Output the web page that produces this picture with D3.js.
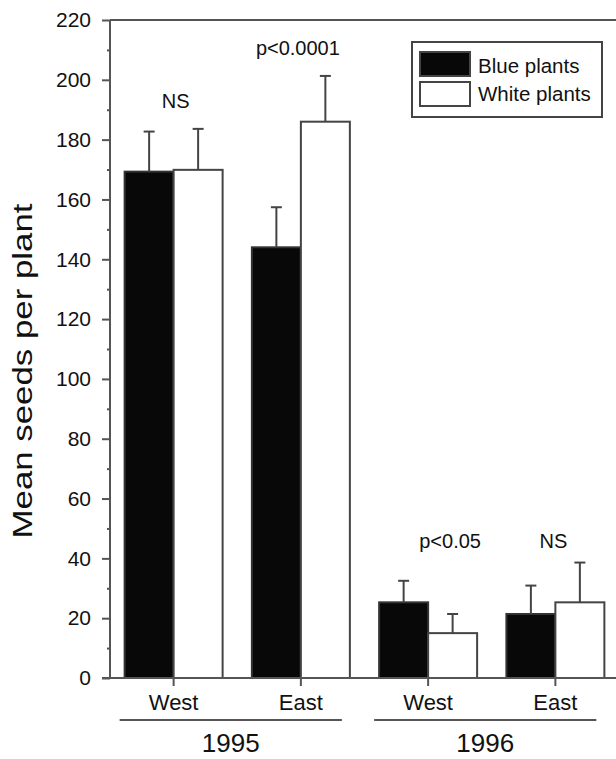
<!DOCTYPE html>
<html>
<head>
<meta charset="utf-8">
<script src="https://cdn.jsdelivr.net/npm/d3@7"></script>
<style>
  body { margin: 0; background: #fff; }
  text { font-family: "Liberation Sans", Arial, sans-serif; fill: #111; }
</style>
</head>
<body>
<div id="chart"></div>
<script>
// Mean seeds per plant, blue vs white morphs, by site and year

var years = ["1995", "1995", "1996", "1996"];
var sites = ["West", "East", "West", "East"];
var blueMeans = [169.3, 144, 25.3, 21.4];
var blueErr = [182.7, 157.4, 32.5, 30.9];
var whiteMeans = [169.9, 186, 15, 25.3];
var whiteErr = [183.6, 201.3, 21.4, 38.6];
var signif = ["NS", "p<0.0001", "p<0.05", "NS"];
var signifLevel = [190.6, 208.3, 43.5, 43.5];
var yTicks = [0, 20, 40, 60, 80, 100, 120, 140, 160, 180, 200, 220];
var seriesNames = ["Blue plants", "White plants"];

var margin = {top: 20, right: 0, bottom: 81, left: 110},
	width = 509,
	height = 759 - margin.top - margin.bottom;

var svg = d3.select("#chart").append("svg")
	.attr("width", 616)
	.attr("height", 759)
  .append("g")
	.attr("transform", "translate(" + margin.left + "," + margin.top + ")");

var keys = years.map(function(y, i) { return y + "-" + sites[i]; });

var x = d3.scaleBand()
		  .domain(keys)
		  .range([0, width])
		  .paddingInner(0.23)
		  .paddingOuter(0.115);
var y = d3.scaleLinear()
		  .domain([0, 220])
		  .range([height, 0]);

var bw = x.bandwidth() / 2;
var axisColor = "#555";

// Bars
var rows = keys.map(function(k, i) {
	return [
		{key: k, side: 0, v: blueMeans[i], e: blueErr[i], fill: "#080808", stroke: "#333"},
		{key: k, side: 1, v: whiteMeans[i], e: whiteErr[i], fill: "#fff", stroke: "#444"}
	];
}).flat();

svg.selectAll(".bar")
	.data(rows)
	.enter().append("rect")
	  .attr("class", "bar")
	  .attr("x", function(d) { return x(d.key) + d.side * bw; })
	  .attr("width", bw)
	  .attr("y", function(d) { return y(d.v); })
	  .attr("height", function(d) { return height - y(d.v); })
	  .attr("fill", function(d) { return d.fill; })
	  .attr("stroke", function(d) { return d.stroke; })
	  .attr("stroke-width", 2);

// Error bars (upper only)
var eb = svg.selectAll(".err")
	.data(rows)
	.enter().append("g")
	  .attr("class", "err")
	  .attr("stroke", "#444")
	  .attr("stroke-width", 2);
eb.append("line")
	.attr("x1", function(d) { return x(d.key) + d.side * bw + bw / 2; })
	.attr("x2", function(d) { return x(d.key) + d.side * bw + bw / 2; })
	.attr("y1", function(d) { return y(d.v); })
	.attr("y2", function(d) { return y(d.e); });
eb.append("line")
	.attr("x1", function(d) { return x(d.key) + d.side * bw + bw / 2 - 5.5; })
	.attr("x2", function(d) { return x(d.key) + d.side * bw + bw / 2 + 5.5; })
	.attr("y1", function(d) { return y(d.e); })
	.attr("y2", function(d) { return y(d.e); });

// Significance labels
var signifDx = [2, -3, 22, -2];
svg.selectAll(".sig")
	.data(keys)
	.enter().append("text")
	  .attr("class", "sig")
	  .attr("x", function(k, i) { return x(k) + x.bandwidth() / 2 + signifDx[i]; })
	  .attr("y", function(k, i) { return y(signifLevel[i]); })
	  .attr("text-anchor", "middle")
	  .style("font-size", "20px")
	  .text(function(k, i) { return signif[i]; });

// Y axis with major and minor ticks
var yAxis = svg.append("g")
	.call(d3.axisLeft(y).tickValues(yTicks).tickSize(8).tickPadding(11));
yAxis.select(".domain").remove();
yAxis.selectAll(".tick line").attr("stroke", axisColor).attr("stroke-width", 2);
yAxis.selectAll(".tick text").style("font-size", "21px").attr("fill", "#111");

svg.append("g")
	.call(d3.axisLeft(y).tickValues(yTicks.slice(0, -1).map(function(t) { return t + 10; }))
		.tickSize(3).tickFormat(""))
	.call(function(g) { g.select(".domain").remove(); })
	.selectAll("line").attr("stroke", axisColor).attr("stroke-width", 2);

svg.append("line")
	.attr("x1", 0).attr("x2", 0)
	.attr("y1", y(220)).attr("y2", y(0))
	.attr("stroke", axisColor).attr("stroke-width", 2);
svg.append("line")
	.attr("x1", 0).attr("x2", 520)
	.attr("y1", y(220)).attr("y2", y(220))
	.attr("stroke", axisColor).attr("stroke-width", 2);

// X axis
var xAxis = svg.append("g")
	.attr("transform", "translate(0," + height + ")")
	.call(d3.axisBottom(x).tickSize(8).tickPadding(5)
		.tickFormat(function(k, i) { return sites[i]; }));
xAxis.select(".domain").remove();
xAxis.selectAll(".tick line").attr("stroke", axisColor).attr("stroke-width", 2);
xAxis.selectAll(".tick text").style("font-size", "22px").attr("fill", "#111").attr("dy", "0.85em");
svg.append("line")
	.attr("x1", -8).attr("x2", 520)
	.attr("y1", height).attr("y2", height)
	.attr("stroke", axisColor).attr("stroke-width", 2);

// Year group lines and labels
var yearNames = ["1995", "1996"];
yearNames.forEach(function(yr) {
	var ks = keys.filter(function(k) { return k.indexOf(yr) === 0; });
	var x0 = x(ks[0]) - 5, x1 = x(ks[ks.length - 1]) + x.bandwidth() - 8;
	svg.append("line")
		.attr("x1", x0).attr("x2", x1)
		.attr("y1", height + 42).attr("y2", height + 42)
		.attr("stroke", axisColor).attr("stroke-width", 2);
	svg.append("text")
		.attr("x", (x0 + x1) / 2)
		.attr("y", height + 74)
		.attr("text-anchor", "middle")
		.style("font-size", "26px")
		.text(yr);
});

// Y axis title
svg.append("text")
	.attr("transform", "translate(-78," + (height / 2 + 22) + ") rotate(-90)")
	.attr("text-anchor", "middle")
	.attr("textLength", 335)
	.attr("lengthAdjust", "spacingAndGlyphs")
	.style("font-size", "27px")
	.text("Mean seeds per plant");

// Legend
var legend = svg.append("g").attr("transform", "translate(302,22)");
legend.append("rect")
	.attr("width", 190).attr("height", 75)
	.attr("fill", "#fff").attr("stroke", "#444").attr("stroke-width", 2);
seriesNames.forEach(function(name, i) {
	legend.append("rect")
		.attr("x", 8).attr("y", 10 + i * 30)
		.attr("width", 50).attr("height", 24)
		.attr("fill", i === 0 ? "#080808" : "#fff")
		.attr("stroke", "#444").attr("stroke-width", 2);
	legend.append("text")
		.attr("x", 66).attr("y", 31 + i * 28)
		.style("font-size", "20.5px")
		.text(name);
});
</script>
</body>
</html>
